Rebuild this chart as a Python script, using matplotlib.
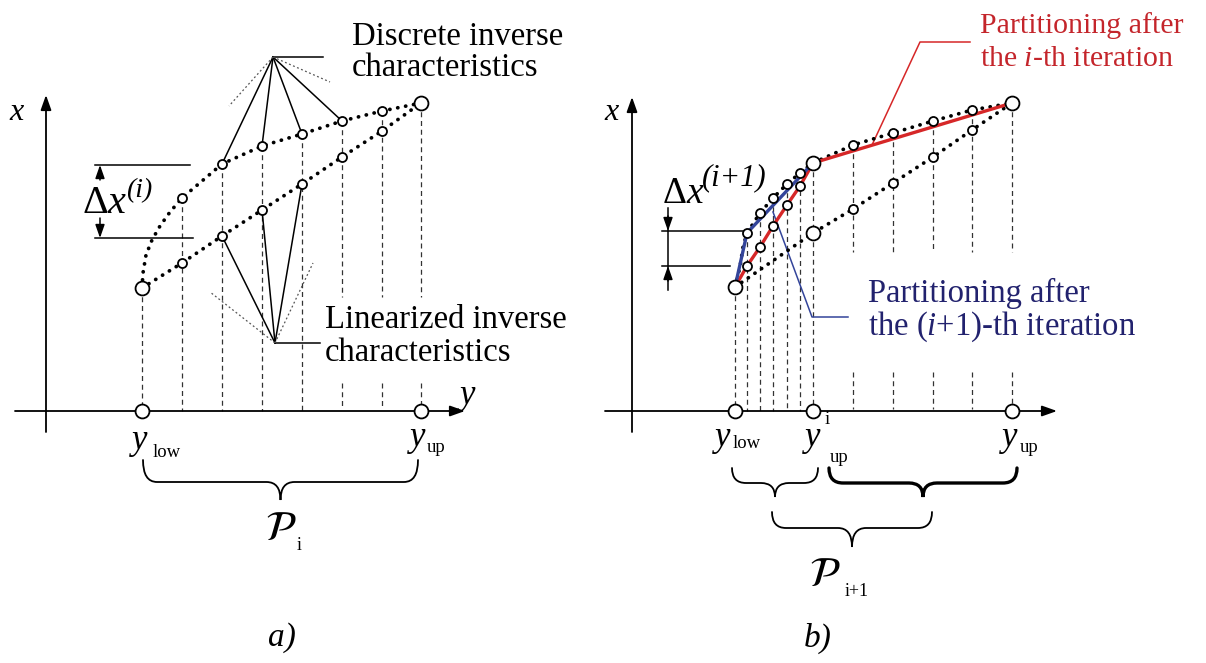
import matplotlib
matplotlib.use("Agg")
import matplotlib.pyplot as plt
from matplotlib.path import Path
from matplotlib.patches import PathPatch

plt.rcParams['font.family'] = ['Liberation Serif', 'DejaVu Serif']
plt.rcParams['mathtext.fontset'] = 'custom'
plt.rcParams['mathtext.rm'] = 'Liberation Serif'
plt.rcParams['mathtext.it'] = 'Liberation Serif:italic'

# ---- panel a) : samples on the y axis and the two characteristics (x values)
a_y = [96, 136, 176, 216, 256, 296, 336, 375]
a_x_discrete = [123, 213, 247, 265, 277, 290, 300, 308]
a_x_linear = [123, 148, 175, 201, 227, 254, 280, 308]
# steep start of the discrete curve, read between the first two samples
a_start_y = [96, 97, 100, 106, 114, 124, 136]
a_start_x = [123, 138, 156, 171, 185, 199, 213]

# ---- panel b)
b_y = [103, 115, 128, 141, 155, 168, 181, 221, 261, 301, 340, 380]
b_x_discrete = [124, 178, 198, 213, 227, 238, 248, 266, 278, 290, 301, 308]
b_start_y = [103, 108, 111, 115]
b_start_x = [124, 144, 164, 178]
b_lin_y = [103, 181, 221, 261, 301, 340, 380]
b_lin_x = [124, 178, 202, 228, 254, 281, 308]
red_y = [103, 115, 128, 141, 155, 168, 181, 380]
red_x = [124, 145, 164, 185, 206, 225, 248, 308]
blue_y = [103, 115, 181]
blue_x = [124, 178, 248]

RED = '#d62728'
RED_TXT = '#c4252b'
BLUE = '#33449a'
BLUE_TXT = '#22226e'

W, H = 1206, 663
fig = plt.figure(figsize=(W / 100, H / 100), dpi=100)


def panel(left, ox, oy):
    ax = fig.add_axes([left / W, 0, 603 / W, 1])
    ax.set_xlim(left - ox, left + 603 - ox)
    ax.set_ylim(oy - H, oy)
    ax.axis('off')
    return ax


def dotted(ax, xs, ys):
    ax.plot(xs, ys, color='black', lw=2.7, linestyle=(0, (0.05, 2.1)),
            dash_capstyle='round', zorder=3)


def circles(ax, xs, ys, big=False):
    ax.plot(xs, ys, 'o', ms=10 if big else 6.5, mfc='white', mec='black',
            mew=1.3, zorder=6, linestyle='none')


def vdash(ax, y, x0, x1):
    ax.plot([y, y], [x0, x1], color='#333333', lw=0.9,
            linestyle=(0, (4, 3)), zorder=1)


def arrow(ax, tail, tip, hl=0.45, hw=0.16, lw=1.3):
    ax.annotate('', xy=tip, xytext=tail,
                arrowprops=dict(arrowstyle='-|>,head_length=%g,head_width=%g' % (hl, hw),
                                lw=lw, color='black', shrinkA=0, shrinkB=0,
                                mutation_scale=20))


def brace(ax, y0, y1, top, base, tip, lw=1.3):
    m = (y0 + y1) / 2
    r = min(14, (y1 - y0) / 6)
    verts = [(y0, top), (y0, base), (y0 + r, base), (m - r, base), (m, base), (m, tip),
             (m, base), (m + r, base), (y1 - r, base), (y1, base), (y1, top)]
    codes = [Path.MOVETO, Path.CURVE3, Path.CURVE3, Path.LINETO, Path.CURVE3, Path.CURVE3,
             Path.CURVE3, Path.CURVE3, Path.LINETO, Path.CURVE3, Path.CURVE3]
    ax.add_patch(PathPatch(Path(verts, codes), fill=False, lw=lw, capstyle='round'))


# ================= panel a =================
ax = panel(0, 46, 411)
arrow(ax, (-31, 0), (419, 0))
arrow(ax, (0, -21), (0, 316))
ax.text(-29, 298, 'x', fontsize=23, style='italic', ha='center', va='center')
ax.text(422, 16, 'y', fontsize=25, style='italic', ha='center', va='center')

for i, (y, xd) in enumerate(zip(a_y, a_x_discrete)):
    if i < 5:
        vdash(ax, y, xd, 0)
    else:
        vdash(ax, y, xd, 114)
        vdash(ax, y, 28, 2)

dotted(ax, a_start_y + a_y[2:], a_start_x + a_x_discrete[2:])
dotted(ax, a_y, a_x_linear)

# fan lines for the two kinds of characteristics
apex_d = (227, 354)
for y, x in zip(a_y[2:6], a_x_discrete[2:6]):
    ax.plot([apex_d[0], y], [apex_d[1], x], color='black', lw=1.1, zorder=2)
ax.plot([apex_d[0], 277], [apex_d[1], 354], color='black', lw=1.1)
for end in [(183, 305), (284, 329)]:
    ax.plot([apex_d[0], end[0]], [apex_d[1], end[1]], color='#555555', lw=0.9,
            linestyle=(0, (1.5, 2)))
apex_l = (229, 68)
for y, x in zip(a_y[2:5], a_x_linear[2:5]):
    ax.plot([apex_l[0], y], [apex_l[1], x], color='black', lw=1.1, zorder=2)
ax.plot([apex_l[0], 274], [apex_l[1], 68], color='black', lw=1.1)
for end in [(164, 119), (267, 148)]:
    ax.plot([apex_l[0], end[0]], [apex_l[1], end[1]], color='#555555', lw=0.9,
            linestyle=(0, (1.5, 2)))

circles(ax, a_y[1:-1], a_x_discrete[1:-1])
circles(ax, a_y[1:-1], a_x_linear[1:-1])
circles(ax, [a_y[0], a_y[-1]], [a_x_discrete[0], a_x_discrete[-1]], big=True)
circles(ax, [a_y[0], a_y[-1]], [0, 0], big=True)

ax.text(306, 366, 'Discrete inverse', fontsize=23.5, va='baseline')
ax.text(306, 335, 'characteristics', fontsize=23.5, va='baseline')
ax.text(279, 83, 'Linearized inverse', fontsize=23.5, va='baseline')
ax.text(279, 50, 'characteristics', fontsize=23.5, va='baseline')

# delta x^(i)
ax.plot([49, 144], [246, 246], color='black', lw=1.1)
ax.plot([49, 147], [173, 173], color='black', lw=1.1)
arrow(ax, (54, 231), (54, 246), hl=0.4, hw=0.14, lw=1.1)
arrow(ax, (54, 193), (54, 173), hl=0.4, hw=0.14, lw=1.1)
ax.text(36, 198, r'$\Delta x$', fontsize=29, va='baseline')
ax.text(80, 214, '(i)', fontsize=20, style='italic', va='baseline')

ax.text(86, -38, 'y', fontsize=25, style='italic', va='baseline')
ax.text(107, -46, 'low', fontsize=13.5, va='baseline')
ax.text(364, -35, 'y', fontsize=25, style='italic', va='baseline')
ax.text(381, -41, 'up', fontsize=13.5, va='baseline')
brace(ax, 97, 372, -49, -71, -89)
ax.text(235, -119, r'$\mathcal{P}$', fontsize=30, math_fontfamily='stix',
        ha='center', va='center')
ax.text(251, -134, 'i', fontsize=13, va='center')
ax.text(236, -227, 'a)', fontsize=24, style='italic', ha='center', va='center')

# ================= panel b =================
ax = panel(603, 632, 411)
arrow(ax, (-27, 0), (425, 0))
arrow(ax, (0, -21), (0, 314))
ax.text(-20, 298, 'x', fontsize=23, style='italic', ha='center', va='center')

for i, (y, xd) in enumerate(zip(b_y, b_x_discrete)):
    if i < 7:
        vdash(ax, y, xd, 0)
    else:
        vdash(ax, y, xd, 159)
        vdash(ax, y, 39, 2)

dotted(ax, b_start_y + b_y[2:], b_start_x + b_x_discrete[2:])
dotted(ax, b_lin_y, b_lin_x)
ax.plot(red_y, red_x, color=RED, lw=2.4, zorder=4, solid_joinstyle='round')
ax.plot(blue_y, blue_x, color=BLUE, lw=2.4, zorder=4, solid_joinstyle='round')

circles(ax, b_y[1:6] + b_y[7:-1], b_x_discrete[1:6] + b_x_discrete[7:-1])
circles(ax, red_y[1:-2], red_x[1:-2])
circles(ax, b_lin_y[2:-1], b_lin_x[2:-1])
circles(ax, [b_y[0], b_y[6], b_y[-1], b_lin_y[1]],
        [b_x_discrete[0], b_x_discrete[6], b_x_discrete[-1], b_lin_x[1]], big=True)
circles(ax, [b_y[0], b_y[6], b_y[-1]], [0, 0, 0], big=True)

# callouts
ax.plot([240, 288, 338], [266, 369, 369], color=RED, lw=1.1)
ax.plot([141, 180, 216], [199, 94, 94], color=BLUE, lw=1.1)
ax.text(348, 378, 'Partitioning after', fontsize=21.5, color=RED_TXT, va='baseline')
ax.text(348, 345, r'the $\mathit{i}$-th iteration', fontsize=21.5, color=RED_TXT,
        va='baseline')
ax.text(236, 109, 'Partitioning after', fontsize=23.5, color=BLUE_TXT, va='baseline')
ax.text(236, 76, r'the $\mathit{(i{+}1)}$-th iteration', fontsize=23.5, color=BLUE_TXT,
        va='baseline')

# delta x^(i+1)
ax.plot([30, 111], [180, 180], color='black', lw=1.1)
ax.plot([30, 98], [145, 145], color='black', lw=1.1)
ax.plot([36, 36], [203, 121], color='black', lw=1.1)
arrow(ax, (36, 195), (36, 180), hl=0.4, hw=0.14, lw=1.1)
arrow(ax, (36, 130), (36, 145), hl=0.4, hw=0.14, lw=1.1)
ax.text(30, 208, r'$\Delta x$', fontsize=27, va='baseline')
ax.text(70, 226, '(i+1)', fontsize=22, style='italic', va='baseline')

ax.text(83, -35, 'y', fontsize=25, style='italic', va='baseline')
ax.text(101, -37, 'low', fontsize=13.5, va='baseline')
ax.text(173, -35, 'y', fontsize=25, style='italic', va='baseline')
ax.text(193, -13, 'i', fontsize=13.5, va='baseline')
ax.text(198, -51, 'up', fontsize=13.5, va='baseline')
ax.text(370, -35, 'y', fontsize=25, style='italic', va='baseline')
ax.text(388, -41, 'up', fontsize=13.5, va='baseline')

brace(ax, 100, 186, -57, -72, -86)
brace(ax, 197, 385, -57, -72, -86, lw=2.4)
brace(ax, 140, 300, -101, -117, -136)
ax.text(193, -165, r'$\mathcal{P}$', fontsize=30, math_fontfamily='stix',
        ha='center', va='center')
ax.text(213, -180, 'i+1', fontsize=13, va='center')
ax.text(186, -227, 'b)', fontsize=24, style='italic', ha='center', va='center')

fig.savefig('out.png', dpi=100)
